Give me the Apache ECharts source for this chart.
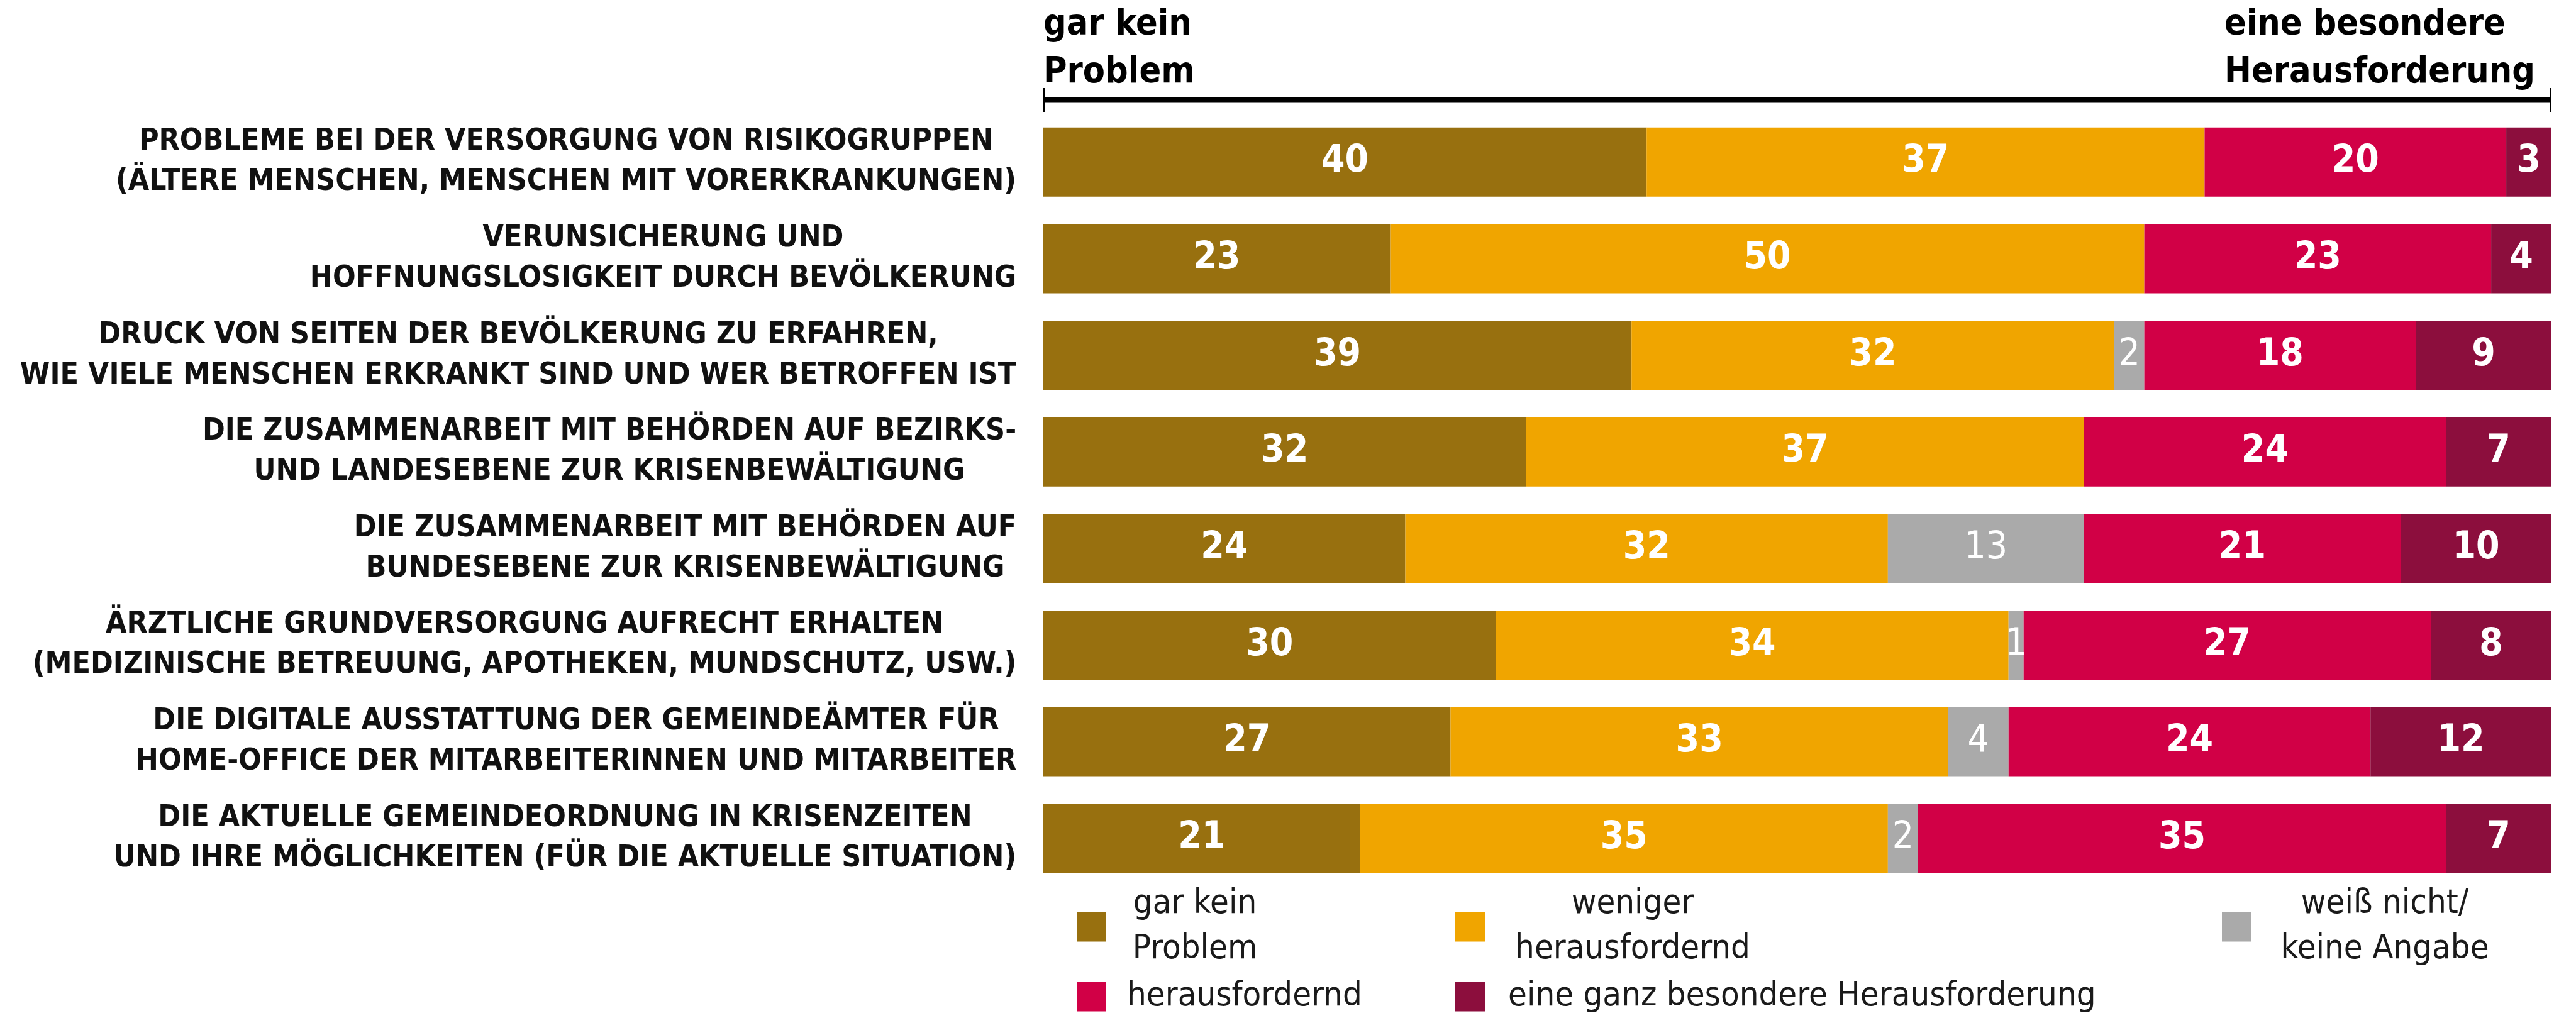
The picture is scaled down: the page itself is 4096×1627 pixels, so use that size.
<!DOCTYPE html>
<html>
<head>
<meta charset="utf-8">
<script src="https://cdn.jsdelivr.net/npm/echarts@6/dist/echarts.min.js"></script>
<style>
html, body { margin: 0; padding: 0; background: #fff; }
#main { width: 4096px; height: 1627px; }
</style>
</head>
<body>
<div id="main"></div>
<script>
var categories = [
  'PROBLEME BEI DER VERSORGUNG VON RISIKOGRUPPEN\n(ÄLTERE MENSCHEN, MENSCHEN MIT VORERKRANKUNGEN)',
  'VERUNSICHERUNG UND\nHOFFNUNGSLOSIGKEIT DURCH BEVÖLKERUNG',
  'DRUCK VON SEITEN DER BEVÖLKERUNG ZU ERFAHREN,\nWIE VIELE MENSCHEN ERKRANKT SIND UND WER BETROFFEN IST',
  'DIE ZUSAMMENARBEIT MIT BEHÖRDEN AUF BEZIRKS-\nUND LANDESEBENE ZUR KRISENBEWÄLTIGUNG',
  'DIE ZUSAMMENARBEIT MIT BEHÖRDEN AUF\nBUNDESEBENE ZUR KRISENBEWÄLTIGUNG',
  'ÄRZTLICHE GRUNDVERSORGUNG AUFRECHT ERHALTEN\n(MEDIZINISCHE BETREUUNG, APOTHEKEN, MUNDSCHUTZ, USW.)',
  'DIE DIGITALE AUSSTATTUNG DER GEMEINDEÄMTER FÜR\nHOME-OFFICE DER MITARBEITERINNEN UND MITARBEITER',
  'DIE AKTUELLE GEMEINDEORDNUNG IN KRISENZEITEN\nUND IHRE MÖGLICHKEITEN (FÜR DIE AKTUELLE SITUATION)'
];

var noProblem       = [40, 23, 39, 32, 24, 30, 27, 21];
var lessChallenging = [37, 50, 32, 37, 32, 34, 33, 35];
var dontKnow        = [null, null, 2, null, 13, 1, 4, 2];
var challenging     = [20, 23, 18, 24, 21, 27, 24, 35];
var veryChallenging = [3, 4, 9, 7, 10, 8, 12, 7];

var seriesNames = ['gar kein Problem', 'weniger herausfordernd', 'weiß nicht/ keine Angabe',
                   'herausfordernd', 'eine ganz besondere Herausforderung'];
var legendTexts = ['gar kein\nProblem', 'weniger\nherausfordernd', 'weiß nicht/\nkeine Angabe',
                   'herausfordernd', 'eine ganz besondere Herausforderung'];
var colors = ['#98700f', '#f0a500', '#aaaaaa', '#d10046', '#8c0e3d'];

var FONT = '"DejaVu Sans Condensed", "Liberation Sans Narrow", "DejaVu Sans", sans-serif';
var gridLeft = 1659, gridRight = 39, gridTop = 181, gridHeight = 1229;
var lineEnd = 4096 - gridRight;

// widest line of each label, so lines are centred inside a right-aligned block
var ctx = document.createElement('canvas').getContext('2d');
ctx.font = 'bold 48px ' + FONT;
var catRich = {};
categories.forEach(function (c, i) {
  var w = Math.max.apply(null, c.split('\n').map(function (l) { return ctx.measureText(l).width; }));
  catRich['r' + i] = {
    width: Math.ceil(w) + 1, align: 'center', fontSize: 48, fontWeight: 'bold',
    fontFamily: FONT, color: '#111', lineHeight: 64
  };
});

var values = [noProblem, lessChallenging, dontKnow, challenging, veryChallenging];
var series = values.map(function (arr, i) {
  return {
    name: seriesNames[i],
    type: 'bar',
    stack: 'total',
    barWidth: 110,
    itemStyle: { color: colors[i] },
    label: {
      show: true,
      position: 'inside',
      color: '#fff',
      fontFamily: FONT,
      fontSize: 60,
      fontWeight: i === 2 ? 'normal' : 'bold'
    },
    data: arr
  };
});

// legend layout: [left, top, text box width, left padding, centred]
var legendLayout = [
  [1712, 1411, 272, 0, true],
  [2314, 1411, 460, 0, true],
  [3533, 1411, 414, 0, true],
  [1712, 1558, 0, 28, false],
  [2314, 1558, 0, 32, false]
];
var legends = legendLayout.map(function (l, i) {
  var st = { fontSize: 54, fontFamily: FONT, color: '#1a1a1a', lineHeight: 72 };
  if (l[4]) { st.width = l[2]; st.align = 'center'; } else { st.padding = [0, 0, 0, l[3]]; }
  return {
    data: [seriesNames[i]],
    left: l[0], top: l[1], padding: 0,
    orient: 'horizontal',
    icon: 'rect', itemWidth: 47, itemHeight: 47,
    selectedMode: false,
    formatter: function () {
      return legendTexts[i].split('\n').map(function (t) { return '{a|' + t + '}'; }).join('\n');
    },
    textStyle: { rich: { a: st } }
  };
});

var myChart = echarts.init(document.getElementById('main'));
var option = {
  backgroundColor: '#fff',
  animation: false,
  grid: { left: gridLeft, right: gridRight, top: gridTop, height: gridHeight },
  legend: legends,
  xAxis: { type: 'value', min: 0, max: 100, show: false },
  yAxis: {
    type: 'category',
    inverse: true,
    data: categories,
    axisLine: { show: false },
    axisTick: { show: false },
    axisLabel: {
      margin: 42,
      formatter: function (v, idx) {
        return v.split('\n').map(function (t) { return '{r' + idx + '|' + t + '}'; }).join('\n');
      },
      rich: catRich
    }
  },
  graphic: [
    { type: 'text', left: gridLeft, top: 2,
      style: { text: 'gar kein\nProblem', font: 'bold 57px ' + FONT, lineHeight: 76, fill: '#000' } },
    { type: 'text', right: 65, top: 2,
      style: { text: 'eine besondere\nHerausforderung', font: 'bold 57px ' + FONT, lineHeight: 76,
               fill: '#000', align: 'right' } },
    { type: 'line', shape: { x1: gridLeft, y1: 159, x2: lineEnd, y2: 159 },
      style: { stroke: '#000', lineWidth: 9 } },
    { type: 'line', shape: { x1: gridLeft + 1.5, y1: 140, x2: gridLeft + 1.5, y2: 178 },
      style: { stroke: '#000', lineWidth: 3 } },
    { type: 'line', shape: { x1: lineEnd - 1.5, y1: 140, x2: lineEnd - 1.5, y2: 178 },
      style: { stroke: '#000', lineWidth: 3 } }
  ],
  series: series
};
myChart.setOption(option);
</script>
</body>
</html>
